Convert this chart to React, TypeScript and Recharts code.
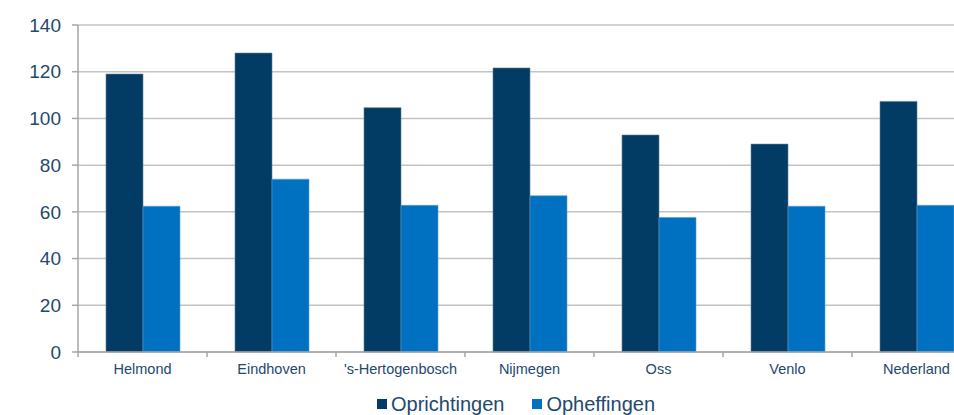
import { BarChart, Bar, XAxis, YAxis, CartesianGrid, Legend } from 'recharts';

const steden = ['Helmond', 'Eindhoven', "'s-Hertogenbosch", 'Nijmegen', 'Oss', 'Venlo', 'Nederland'];
const oprichtingen = [119, 128, 104.6, 121.6, 92.9, 89, 107.3];
const opheffingen = [62.4, 74, 62.8, 66.9, 57.6, 62.4, 62.8];
const yTicks = [0, 20, 40, 60, 80, 100, 120, 140];

const DONKER = '#023b63';
const LICHT = '#0070c0';
const TEKST = '#23496d';
const FONT = '"Liberation Sans", Arial, sans-serif';

const data = steden.map((stad, i) => ({
  stad,
  Oprichtingen: oprichtingen[i],
  Opheffingen: opheffingen[i],
}));

// label in het midden, streepje op de grens tussen categorieen
function StadTick(props: any) {
  const { x, y, payload } = props;
  const half = payload?.offset ?? 64.5;
  return (
    <g>
      <line x1={x - half} x2={x - half} y1={y - 8} y2={y - 3} stroke="#a6a6a6" strokeWidth={1.5} />
      <text x={x} y={y + 14} textAnchor="middle" fill={TEKST} fontSize={14.5} fontFamily={FONT}>
        {payload.value}
      </text>
    </g>
  );
}

function LegendaInhoud() {
  const items = [
    { naam: 'Oprichtingen', kleur: DONKER },
    { naam: 'Opheffingen', kleur: LICHT },
  ];
  return (
    <div style={{ display: 'flex', alignItems: 'center', fontFamily: FONT, fontSize: 20, lineHeight: '22px', color: TEKST, whiteSpace: 'nowrap' }}>
      {items.map((it, i) => (
        <div key={it.naam} style={{ display: 'flex', alignItems: 'center', marginLeft: i ? 28 : 0 }}>
          <span style={{ display: 'inline-block', width: 10, height: 10, background: it.kleur, marginRight: 4 }} />
          <span>{it.naam}</span>
        </div>
      ))}
    </div>
  );
}

export default function App() {
  return (
    <div style={{ position: 'fixed', left: 0, top: 0, width: 954, height: 415, overflow: 'hidden', background: '#fff' }}>
      <BarChart
        width={990}
        height={415}
        data={data}
        margin={{ top: 25, right: 9, left: 0, bottom: 33 }}
        barCategoryGap={28}
        barGap={0}
      >
        <CartesianGrid vertical={false} stroke="#c3c3c3" strokeWidth={1.5} />
        <XAxis
          dataKey="stad"
          height={30}
          interval={0}
          tickLine={false}
          axisLine={{ stroke: '#a6a6a6', strokeWidth: 1.5 }}
          tick={<StadTick />}
        />
        <YAxis
          width={78}
          domain={[0, 140]}
          ticks={yTicks}
          interval={0}
          tickSize={6}
          tickMargin={11}
          axisLine={{ stroke: '#a6a6a6', strokeWidth: 1.5 }}
          tickLine={{ stroke: '#a6a6a6', strokeWidth: 1.5 }}
          tick={{ fill: TEKST, fontSize: 19, fontFamily: FONT }}
        />
        <Legend
          layout="horizontal"
          verticalAlign="middle"
          align="center"
          content={<LegendaInhoud />}
          wrapperStyle={{ top: 393, left: 377, width: 'auto', height: 22 }}
        />
        <Bar dataKey="Oprichtingen" fill={DONKER} stroke="#5b7f9c" strokeWidth={0.6} isAnimationActive={false} />
        <Bar dataKey="Opheffingen" fill={LICHT} stroke="#5aa0d8" strokeWidth={0.6} isAnimationActive={false} />
      </BarChart>
    </div>
  );
}
